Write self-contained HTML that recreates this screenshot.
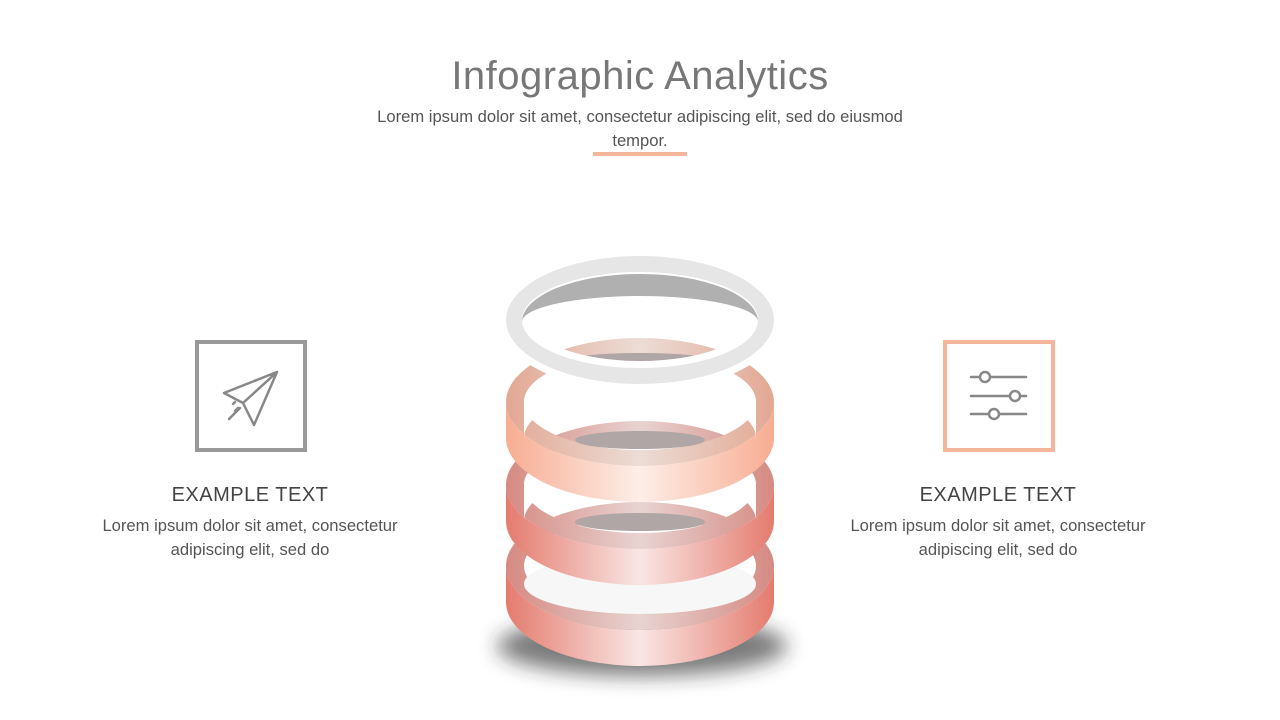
<!DOCTYPE html>
<html><head><meta charset="utf-8"><style>
body{margin:0;width:1280px;height:720px;background:#fff;position:relative;overflow:hidden;font-family:"Liberation Sans",sans-serif;}
.t{position:absolute;left:0;width:1280px;text-align:center;}
</style></head><body>
<div class="t" style="top:54px;font-size:40px;color:#777;letter-spacing:0.5px;">Infographic Analytics</div>
<div class="t" style="top:105px;font-size:16.6px;color:#555;line-height:24px;">Lorem ipsum dolor sit amet, consectetur adipiscing elit, sed do eiusmod<br>tempor.</div>
<div style="position:absolute;left:593px;top:152px;width:94px;height:4px;background:#f4b59b"></div>

<div style="position:absolute;left:195px;top:340px;width:104px;height:104px;border:4px solid #999;"></div>
<div style="position:absolute;left:943px;top:340px;width:104px;height:104px;border:4px solid #f4b59b;"></div>
<svg style="position:absolute;left:0;top:0" width="1280" height="720">
<g fill="none" stroke="#888" stroke-width="2.5" stroke-linejoin="round" stroke-linecap="round">
<path d="M277,372 L224,393 L243,403 Z M277,372 L243,403 L254,425 Z"/>
<path d="M229,419 L240,408 M235,411 L238,408 M233,404 L235,402"/>
<path d="M971,377 H1026 M971,396 H1026 M971,414 H1026"/>
</g>
<g fill="#fff" stroke="#888" stroke-width="2.5">
<circle cx="985" cy="377" r="5"/><circle cx="1015" cy="396" r="5"/><circle cx="994" cy="414" r="5"/>
</g>
<defs>
<linearGradient id="pk" x1="0" x2="1"><stop offset="0" stop-color="#e47b6e"/><stop offset="0.5" stop-color="#f9e6e4"/><stop offset="1" stop-color="#e47b6e"/></linearGradient>
<linearGradient id="pc" x1="0" x2="1"><stop offset="0" stop-color="#f7ad92"/><stop offset="0.5" stop-color="#fdeee8"/><stop offset="1" stop-color="#f7ad92"/></linearGradient>
<linearGradient id="pkt" x1="0" x2="1"><stop offset="0" stop-color="#d58a82"/><stop offset="0.5" stop-color="#e8d3d1"/><stop offset="1" stop-color="#d58a82"/></linearGradient>
<linearGradient id="pct" x1="0" x2="1"><stop offset="0" stop-color="#e2a893"/><stop offset="0.5" stop-color="#ecdcd6"/><stop offset="1" stop-color="#e2a893"/></linearGradient>
<filter id="bl" x="-50%" y="-100%" width="200%" height="300%"><feGaussianBlur stdDeviation="10"/></filter>
</defs>
<ellipse cx="642" cy="646" rx="145" ry="30" fill="#222" opacity="0.6" filter="url(#bl)"/>
<!-- ring 3 -->
<path d="M506,566 A134,64 0 0 0 774,566 L774,602 A134,64 0 0 1 506,602 Z" fill="url(#pk)"/>
<path d="M506,566 A134,64 0 1 1 774,566 A134,64 0 1 1 506,566 Z M524,566 A116,48 0 1 0 756,566 A116,48 0 1 0 524,566 Z" fill="url(#pkt)" fill-rule="evenodd"/>
<ellipse cx="640" cy="584" rx="116" ry="30" fill="#f7f7f7"/>
<!-- ring 2 -->
<path d="M506,485 A134,64 0 0 0 774,485 L774,521 A134,64 0 0 1 506,521 Z" fill="url(#pk)"/>
<path d="M506,485 A134,64 0 1 1 774,485 A134,64 0 1 1 506,485 Z M524,485 A116,48 0 1 0 756,485 A116,48 0 1 0 524,485 Z" fill="url(#pkt)" fill-rule="evenodd"/>
<path d="M524,485 A116,48 0 0 1 756,485 L756,521 A116,48 0 0 0 524,521 Z" fill="#fff"/>
<ellipse cx="640" cy="522" rx="65" ry="9" fill="#b0a6a6"/>
<!-- ring 1 -->
<path d="M506,402 A134,64 0 0 0 774,402 L774,438 A134,64 0 0 1 506,438 Z" fill="url(#pc)"/>
<path d="M506,402 A134,64 0 1 1 774,402 A134,64 0 1 1 506,402 Z M524,402 A116,48 0 1 0 756,402 A116,48 0 1 0 524,402 Z" fill="url(#pct)" fill-rule="evenodd"/>
<path d="M524,402 A116,48 0 0 1 756,402 L756,438 A116,48 0 0 0 524,438 Z" fill="#fff"/>
<ellipse cx="640" cy="440" rx="65" ry="9" fill="#b0a6a6"/>
<ellipse cx="640" cy="362" rx="78" ry="9" fill="#b0a6a6"/>
<!-- top grey ring -->
<path d="M506,320 A134,64 0 1 1 774,320 A134,64 0 1 1 506,320 Z M522,320 A118,48 0 1 0 758,320 A118,48 0 1 0 522,320 Z" fill="#e6e6e6" fill-rule="evenodd" stroke="#fff" stroke-width="14"/>
<path d="M506,320 A134,64 0 1 1 774,320 A134,64 0 1 1 506,320 Z M522,320 A118,48 0 1 0 758,320 A118,48 0 1 0 522,320 Z" fill="#e6e6e6" fill-rule="evenodd"/>
<path d="M522,322 A118,48 0 0 1 758,322 A118,26 0 0 0 522,322 Z" fill="#b0b0b0"/>
</svg>

<div class="t" style="left:50px;width:400px;top:484px;font-size:20px;color:#444;letter-spacing:0.5px;">EXAMPLE TEXT</div>
<div class="t" style="left:50px;width:400px;top:514px;font-size:16.6px;color:#555;line-height:24px;">Lorem ipsum dolor sit amet, consectetur<br>adipiscing elit, sed do</div>
<div class="t" style="left:798px;width:400px;top:484px;font-size:20px;color:#444;letter-spacing:0.5px;">EXAMPLE TEXT</div>
<div class="t" style="left:798px;width:400px;top:514px;font-size:16.6px;color:#555;line-height:24px;">Lorem ipsum dolor sit amet, consectetur<br>adipiscing elit, sed do</div>
</body></html>
